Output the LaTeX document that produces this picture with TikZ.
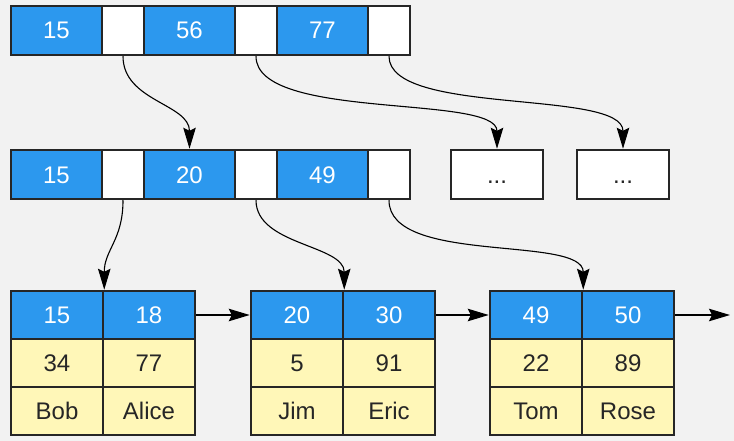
\documentclass[tikz,border=0pt]{standalone}
\usepackage{fontspec}
\setmainfont{Liberation Sans}
\usetikzlibrary{arrows.meta}
\definecolor{keyblue}{RGB}{44,152,238}
\definecolor{valyellow}{RGB}{255,247,184}
\definecolor{paper}{RGB}{242,242,242}
\definecolor{edge}{RGB}{38,38,38}

\begin{document}
\begin{tikzpicture}[x=1pt,y=-1pt]
\tikzstyle{cell}=[draw=edge,line width=2.5pt,inner sep=0pt,minimum height=48pt,
  text height=17pt,text depth=0pt,font=\fontsize{24}{28}\selectfont];
\tikzstyle{key}=[cell,fill=keyblue,text=white,minimum width=91pt];
\tikzstyle{ptr}=[cell,fill=white,minimum width=42pt];
\tikzstyle{leafkey}=[cell,fill=keyblue,text=white,minimum width=92pt];
\tikzstyle{val}=[cell,fill=valyellow,text=edge,minimum width=92pt];
\tikzstyle{more}=[cell,fill=white,text=edge,minimum width=92pt,minimum height=49pt];
\tikzstyle{link}=[draw=black,line width=1.1pt,-{Stealth[length=21pt,width=12.5pt,inset=3pt]}];

\fill[paper] (0,0) rectangle (734,441);
\useasboundingbox (0,0) rectangle (734,441);

% root
\node[key,minimum height=49pt] (t1) at (56.5,30.5) {15};
\node[ptr,minimum height=49pt] (tp1) at (123,30.5) {};
\node[key,minimum height=49pt] (t2) at (189.5,30.5) {56};
\node[ptr,minimum height=49pt] (tp2) at (256,30.5) {};
\node[key,minimum height=49pt] (t3) at (322.5,30.5) {77};
\node[ptr,minimum height=49pt] (tp3) at (389,30.5) {};

% inner level
\node[key,minimum height=49pt] (m1) at (56.5,174.5) {15};
\node[ptr,minimum height=49pt] (mp1) at (123,174.5) {};
\node[key,minimum height=49pt] (m2) at (189.5,174.5) {20};
\node[ptr,minimum height=49pt] (mp2) at (256,174.5) {};
\node[key,minimum height=49pt] (m3) at (322.5,174.5) {49};
\node[ptr,minimum height=49pt] (mp3) at (389,174.5) {};
\node[more] (d1) at (497,174.5) {...};
\node[more] (d2) at (623,174.5) {...};

% leaves
\node[leafkey] (a1) at (57,315) {15};
\node[leafkey] (b1) at (149,315) {18};
\node[val] at (57,363) {34};
\node[val] at (149,363) {77};
\node[val] at (57,411) {Bob};
\node[val] at (149,411) {Alice};

\node[leafkey] (a2) at (297,315) {20};
\node[leafkey] (b2) at (389,315) {30};
\node[val] at (297,363) {5};
\node[val] at (389,363) {91};
\node[val] at (297,411) {Jim};
\node[val] at (389,411) {Eric};

\node[leafkey] (a3) at (536,315) {49};
\node[leafkey] (b3) at (628,315) {50};
\node[val] at (536,363) {22};
\node[val] at (628,363) {89};
\node[val] at (536,411) {Tom};
\node[val] at (628,411) {Rose};

% pointers
\draw[link] (tp1.south) .. controls +(0,45) and +(0,-45) .. (m2.north);
\draw[link] (tp2.south) .. controls +(0,65) and +(0,-55) .. (d1.north);
\draw[link] (tp3.south) .. controls +(0,60) and +(0,-60) .. (d2.north);

\draw[link] (mp1.south) .. controls +(0,40) and +(0,-40) .. (a1.north east);
\draw[link] (mp2.south) .. controls +(0,45) and +(0,-45) .. (a2.north east);
\draw[link] (mp3.south) .. controls +(0,65) and +(0,-55) .. (a3.north east);

% leaf chain
\coordinate (tail) at (730,315);
\draw[link] (b1.east) -- (a2.west);
\draw[link] (b2.east) -- (a3.west);
\draw[link] (b3.east) -- (tail);
\end{tikzpicture}
\end{document}
